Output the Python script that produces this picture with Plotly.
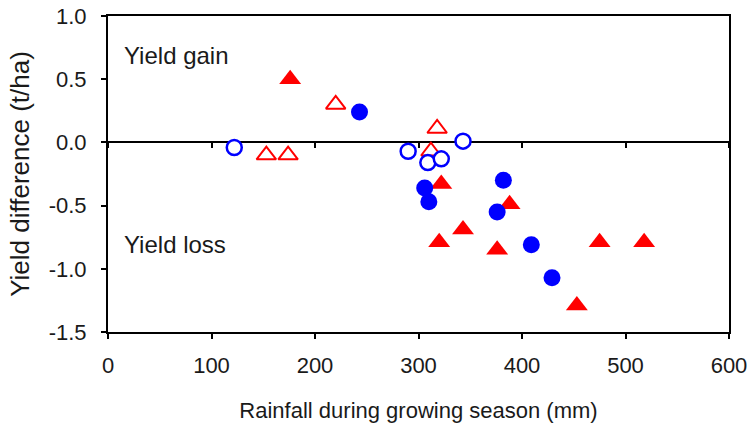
import plotly.graph_objects as go

# Filled red triangles
tri_fill_x = [176, 322, 388, 343, 320, 376, 453, 475, 518]
tri_fill_y = [0.50, -0.33, -0.49, -0.69, -0.79, -0.85, -1.29, -0.79, -0.79]
# Open red triangles
tri_open_x = [220, 153, 174, 312, 318]
tri_open_y = [0.30, -0.10, -0.10, -0.07, 0.11]
# Filled blue circles
cir_fill_x = [243, 306, 310, 382, 376, 409, 429]
cir_fill_y = [0.24, -0.36, -0.47, -0.30, -0.55, -0.81, -1.07]
# Open blue circles
cir_open_x = [122, 290, 309, 322, 343]
cir_open_y = [-0.04, -0.07, -0.16, -0.13, 0.01]

x_ticks = [0, 100, 200, 300, 400, 500, 600]
y_ticks = [1.0, 0.5, 0.0, -0.5, -1.0, -1.5]
y_tick_text = ["1.0", "0.5", "0.0", "-0.5", "-1.0", "-1.5"]

RED = "rgb(255,0,0)"
BLUE = "rgb(0,0,255)"
FONT = "Liberation Sans, Arial, sans-serif"
TXT = "#1a1a1a"

fig = go.Figure()
fig.add_trace(go.Scatter(x=tri_open_x, y=tri_open_y, mode="markers",
                         marker=dict(symbol="triangle-up", size=17, color="white",
                                     line=dict(color=RED, width=2)), showlegend=False))
fig.add_trace(go.Scatter(x=tri_fill_x, y=tri_fill_y, mode="markers",
                         marker=dict(symbol="triangle-up", size=19, color=RED,
                                     line=dict(width=0)), showlegend=False))
fig.add_trace(go.Scatter(x=cir_open_x, y=cir_open_y, mode="markers",
                         marker=dict(symbol="circle", size=15, color="white",
                                     line=dict(color=BLUE, width=2.5)), showlegend=False))
fig.add_trace(go.Scatter(x=cir_fill_x, y=cir_fill_y, mode="markers", xaxis="x2", yaxis="y",
                         marker=dict(symbol="circle", size=17, color=BLUE,
                                     line=dict(width=0)), showlegend=False))

fig.add_annotation(x=14, y=0.69, xref="x", yref="y", text="Yield gain", showarrow=False,
                   xanchor="left", yanchor="middle", font=dict(size=24, color=TXT, family=FONT))
fig.add_annotation(x=14, y=-0.81, xref="x", yref="y", text="Yield loss", showarrow=False,
                   xanchor="left", yanchor="middle", font=dict(size=24, color=TXT, family=FONT))

fig.update_layout(
    width=756, height=436,
    margin=dict(l=108, r=27, t=16, b=104),
    paper_bgcolor="white", plot_bgcolor="white",
    font=dict(family=FONT, color=TXT, size=22),
    xaxis=dict(range=[0, 600], tickvals=x_ticks, showgrid=False, zeroline=False,
               automargin=False,
               showline=True, linecolor="black", linewidth=2, mirror=True,
               ticks="outside", ticklen=5, tickwidth=2, tickcolor="black",
               ticklabelstandoff=8,
               tickfont=dict(size=22, color=TXT, family=FONT),
               title=dict(text="Rainfall during growing season (mm)", standoff=25,
                          font=dict(size=22, color=TXT, family=FONT))),
    xaxis2=dict(range=[0, 600], matches="x", tickvals=x_ticks, overlaying="x", anchor="free",
                position=0.6, side="bottom", showgrid=False, zeroline=False,
                automargin=False,
                showline=True, linecolor="black", linewidth=2, layer="below traces",
                ticks="outside", ticklen=5, tickwidth=2, tickcolor="black",
                showticklabels=False),
    yaxis=dict(range=[-1.5, 1.0], tickvals=y_ticks, ticktext=y_tick_text,
               showgrid=False, zeroline=False, automargin=False,
               showline=True, linecolor="black", linewidth=2, mirror=True,
               ticks="outside", ticklen=5, tickwidth=2, tickcolor="black",
               ticklabelstandoff=10,
               tickfont=dict(size=22, color=TXT, family=FONT),
               title=dict(text="Yield difference (t/ha)", standoff=12,
                          font=dict(size=26, color=TXT, family=FONT))),
)

fig.write_html("out.html", config={"displayModeBar": False},
               post_script="document.body.style.margin='0';")
